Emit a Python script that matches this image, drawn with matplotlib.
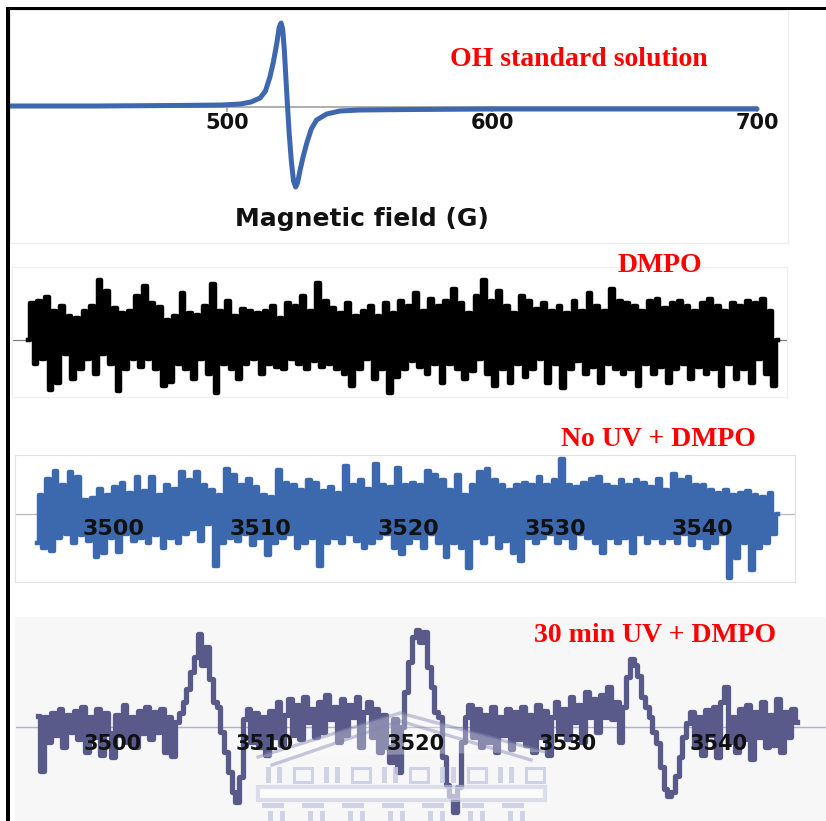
import numpy as np
import matplotlib
matplotlib.use("Agg")
import matplotlib.pyplot as plt
from matplotlib.patches import Rectangle, Polygon
from matplotlib.lines import Line2D

# ---------------------------------------------------------------- data
# OH standard solution: field (G) and first-derivative EPR intensity
oh_field = [418, 450, 480, 498, 505, 509, 512.5, 514.5, 516.2, 517.5, 518.8,
            519.7, 520.4, 521.0, 521.6, 522.2, 522.8, 523.5, 524.3, 525.1,
            525.9, 526.6, 527.5, 528.7, 530.1, 531.8, 533.8, 537.6, 542.6,
            550, 570, 600, 650, 700]
oh_signal = [1, 1, 1.5, 2, 3, 5, 9, 16, 30, 45, 64, 80, 84, 78, 58, 30, 2,
             -28, -55, -74, -80, -76, -64, -50, -36, -22, -13, -7, -4, -3,
             -2.5, -2, -2, -2]
oh_ticks = [500, 600, 700]

# DMPO blank spectrum (noise only)
dmpo_signal = [
    0, 38, -25, 40, -20, 44, -52, 30, -45, 35,
    -15, 25, -40, 22, -30, 30, -20, 35, -35, 62,
    -15, 50, -25, 33, -53, 28, -30, 30, -20, 45,
    -28, 55, -20, 38, -30, 34, -48, 20, -44, 25,
    -25, 48, -30, 28, -40, 26, -20, 35, -35, 57,
    -55, 30, -25, 40, -30, 25, -40, 32, -25, 30,
    -20, 28, -35, 30, -25, 35, -28, 22, -30, 38,
    -20, 35, -25, 45, -30, 30, -22, 58, -28, 40,
    -25, 33, -30, 28, -35, 38, -48, 25, -30, 30,
    -20, 35, -40, 25, -30, 38, -55, 28, -38, 40,
    -30, 35, -22, 48, -28, 30, -35, 42, -25, 35,
    -45, 40, -25, 52, -30, 38, -40, 28, -32, 45,
    -20, 62, -35, 40, -48, 50, -30, 35, -45, 28,
    -25, 45, -38, 40, -30, 32, -20, 38, -45, 30,
    -25, 35, -50, 28, -30, 40, -22, 30, -35, 48,
    -28, 35, -45, 30, -25, 52, -30, 40, -35, 38,
    -30, 35, -48, 30, -25, 40, -35, 42, -28, 33,
    -45, 38, -30, 40, -25, 35, -40, 30, -28, 38,
    -35, 42, -30, 35, -48, 30, -25, 38, -40, 35,
    -30, 40, -45, 38, -20, 42, -35, 30, -48, 0,
]

# No UV + DMPO spectrum
nouv_field_range = (3494.76, 3545.17)
nouv_signal = [
    -30, 20, -35, 36, -38, 44, -25, 30, -20, 43,
    -30, 38, -22, 15, -28, 17, -44, 26, -40, 20,
    -25, 28, -39, 32, -20, 22, -28, 38, -25, 24,
    -30, 38, -22, 20, -35, 30, -25, 26, -30, 43,
    -20, 35, -15, 43, -28, 30, -10, 25, -53, 20,
    -30, 47, -25, 40, -28, 30, -20, 36, -32, 28,
    -25, 20, -42, 18, -30, 46, -25, 32, -20, 30,
    -35, 25, -30, 35, -25, 32, -54, 24, -30, 28,
    -25, 22, -30, 50, -20, 30, -28, 35, -35, 26,
    -30, 52, -25, 30, -20, 28, -35, 48, -41, 30,
    -30, 32, -25, 30, -35, 45, -20, 40, -30, 35,
    -44, 25, -30, 40, -35, 20, -56, 30, -25, 43,
    -30, 47, -20, 35, -35, 30, -28, 25, -40, 30,
    -48, 32, -25, 30, -30, 38, -25, 30, -20, 35,
    -30, 57, -25, 30, -35, 28, -20, 32, -25, 36,
    -30, 38, -40, 30, -25, 28, -30, 35, -25, 30,
    -40, 35, -20, 32, -30, 28, -25, 36, -30, 25,
    -25, 41, -30, 35, -20, 38, -32, 30, -25, 30,
    -35, 25, -30, 22, -20, 25, -66, 20, -45, 22,
    -30, 24, -58, 20, -35, 18, -30, 22, -20, 0,
]

# 30 min UV + DMPO spectrum (DMPO-OH adduct lines)
uv_field_range = (3495.05, 3545.15)
uv_signal = [
    11, -44, 10, -15, 14, -8, 18, -20, 12, -5,
    16, -12, 20, -25, 10, -10, 18, -28, 14, -6,
    -30, 12, -8, 22, -15, 10, -20, 16, -6, 20,
    -12, 15, -5, 18, -25, 10, -29, 5, 14, 25,
    38, 55, 70, 93, 62, 80, 48, 25, 20, -5,
    -25, -45, -65, -75, -50, 8, 18, -15, 14, -20,
    10, -28, 16, -10, 25, -18, 12, 28, -8, 22,
    -12, 30, 5, 18, -10, 25, -5, 32, 8, 20,
    -15, 28, -8, 22, 10, 30, -20, 15, 25, -10,
    18, -25, 12, -20, -35, 8, -45, 0, 35, 65,
    90, 97, 85, 95, 60, 40, 15, 10, -30, -58,
    -69, -85, -60, -15, 10, 22, -10, 18, -20, 12,
    -15, 20, -25, 10, -8, 18, -22, 15, -12, 20,
    -18, 12, -25, 22, -10, 16, -28, 10, 25, -5,
    18, -12, 30, 5, 22, -15, 35, 10, 28, -5,
    32, 10, 40, 8, 25, -15, 20, 50, 68, 62,
    51, 30, 20, 10, -5, -16, -40, -62, -69, -65,
    -49, -30, -10, 4, 15, -20, 10, -28, 17, -8,
    20, -30, 25, 40, -15, 10, -25, 18, -12, 22,
    -32, 15, -10, 25, -20, 12, -18, 28, -25, 15,
    -10, 18, 5,
]
field_ticks = [3500, 3510, 3520, 3530, 3540]

panel_titles = ["OH standard solution", "DMPO", "No UV + DMPO", "30 min UV + DMPO"]
x_label = "Magnetic field (G)"

# ---------------------------------------------------------------- figure
W, H = 826, 821
fig = plt.figure(figsize=(W / 100, H / 100), dpi=100)
fig.patch.set_facecolor("white")


def box(x0, y0, x1, y1):
    """Axes rectangle from pixel edges measured from the top-left corner."""
    return [x0 / W, 1 - y1 / H, (x1 - x0) / W, (y1 - y0) / H]


def fx(x, y):
    return (x / W, 1 - y / H)


def style_frame(ax, color):
    ax.set_xticks([])
    ax.set_yticks([])
    for s in ax.spines.values():
        s.set_color(color)
        s.set_linewidth(0.8)


title_kw = dict(ha="center", va="center", fontsize=20, fontweight="bold",
                color="#FF0000", family="Liberation Serif")
tick_kw = dict(ha="center", va="center", fontweight="bold",
               color="#111111", family="DejaVu Sans")

# --- panel 1: OH standard
ax1 = fig.add_axes(box(10, 10, 788, 243))
style_frame(ax1, "#ECECEC")
ax1.set_xlim(418.1, 711.7)
ax1.set_ylim(-136, 97)
ax1.plot([418.1, 700], [0, 0], color="#A8A8A8", lw=1.3, zorder=1)
for t in oh_ticks:
    ax1.plot([t, t], [0, -4], color="#A8A8A8", lw=1.3, zorder=1)
    ax1.text(t, -16, str(t), fontsize=15, **tick_kw)
ax1.plot(oh_field, oh_signal, color="#3D67AE", lw=3.6,
         solid_capstyle="round", solid_joinstyle="round", zorder=3)
fig.text(*fx(362, 219), x_label, ha="center", va="center", fontsize=18,
         fontweight="bold", color="#111111", family="DejaVu Sans")
fig.text(*fx(579, 59), panel_titles[0], **title_kw)

# --- panel 2: DMPO
ax2 = fig.add_axes(box(12, 267, 787, 397))
style_frame(ax2, "#EEEEEE")
n2 = len(dmpo_signal)
s2 = (778 - 28) / (n2 - 1)
ax2.set_xlim(-(28 - 12) / s2, (n2 - 1) + (787 - 778) / s2)
ax2.set_ylim(-59, 75)
ax2.axhline(0, color="#808080", lw=0.9, zorder=1)
ax2.plot(np.arange(n2), dmpo_signal, drawstyle="steps-mid", color="black",
         lw=3.2, zorder=3)
fig.text(*fx(660, 265), panel_titles[1], **title_kw)

# --- panel 3: No UV + DMPO
ax3 = fig.add_axes(box(15, 455, 795, 582))
style_frame(ax3, "#E2E2E2")
ax3.set_xlim(3493.27, 3546.33)
ax3.set_ylim(-70, 61)
ax3.axhline(0, color="#BDBDBD", lw=1.0, zorder=1)
f3 = np.linspace(*nouv_field_range, len(nouv_signal))
ax3.plot(f3, nouv_signal, drawstyle="steps-mid", color="#3C68AE", lw=3.2,
         zorder=3)
for t in field_ticks:
    ax3.text(t, -15, str(t), fontsize=16, zorder=5, **tick_kw)
fig.text(*fx(658, 439), panel_titles[2], **title_kw)

# --- panel 4: 30 min UV + DMPO
ax4 = fig.add_axes(box(15, 617, 826, 821))
ax4.set_facecolor("#F7F7F7")
style_frame(ax4, "#F7F7F7")
ax4.set_xlim(3493.53, 3547.06)
ax4.set_ylim(-94, 110)
ax4.axhline(0, color="#AEB0CC", lw=1.0, zorder=1)
f4 = np.linspace(*uv_field_range, len(uv_signal))
ax4.plot(f4, uv_signal, drawstyle="steps-mid", color="#5A5A8A", lw=3.8,
         zorder=3)
for t in field_ticks:
    ax4.text(t, -17, str(t), fontsize=15, zorder=8, **tick_kw)
fig.text(*fx(655, 636), panel_titles[3], **title_kw)

# --- faint building watermark inside the lower panel
wm = "#C9CBE1"
tf = fig.transFigure


def wm_rect(x0, y0, x1, y1, **kw):
    r = Rectangle(fx(x0, y1), (x1 - x0) / W, (y1 - y0) / H, transform=tf,
                  zorder=6, **kw)
    ax4.add_patch(r)


ax4.add_patch(Polygon([fx(258, 757), fx(400, 713), fx(545, 752)], closed=True,
                      transform=tf, facecolor="white", alpha=0.3,
                      edgecolor="none", zorder=6))
for dy, inset in ((0, 0), (8, 14)):
    ax4.add_line(Line2D([(258 + inset) / W, 400 / W, (545 - inset) / W],
                        [1 - (757 + dy) / H, 1 - (713 + dy) / H,
                         1 - (752 + dy) / H],
                        transform=tf, color="#8486B2", lw=2.4, alpha=0.45,
                        zorder=6))
# colonnade: column pairs alternating with window frames
xc, k = 266, 0
while xc < 530:
    if k % 2 == 0:
        for dx in (0, 11):
            wm_rect(xc + dx, 767, xc + dx + 5, 783, facecolor=wm,
                    edgecolor="none", alpha=0.85)
        xc += 28
    else:
        wm_rect(xc, 768, xc + 18, 782, facecolor="none", edgecolor=wm,
                lw=2.2, alpha=0.85)
        xc += 30
    k += 1
wm_rect(258, 787, 545, 800, facecolor="white", edgecolor=wm, lw=3,
        alpha=0.6)
for xd in range(262, 540, 40):
    wm_rect(xd, 803, xd + 22, 808, facecolor=wm, edgecolor="none", alpha=0.85)
for xd in range(268, 540, 40):
    for dx in (0, 12):
        wm_rect(xd + dx, 811, xd + dx + 5, 821, facecolor=wm,
                edgecolor="none", alpha=0.85)

# --- black frame on the left and top
fig.add_artist(Rectangle(fx(6, 821), 4 / W, (821 - 7) / H,
                         transform=tf, facecolor="black",
                         edgecolor="none", zorder=20))
fig.add_artist(Rectangle(fx(6, 10), (826 - 6) / W, 3 / H,
                         transform=tf, facecolor="black",
                         edgecolor="none", zorder=20))

fig.savefig("out.png", dpi=100, facecolor="white")
